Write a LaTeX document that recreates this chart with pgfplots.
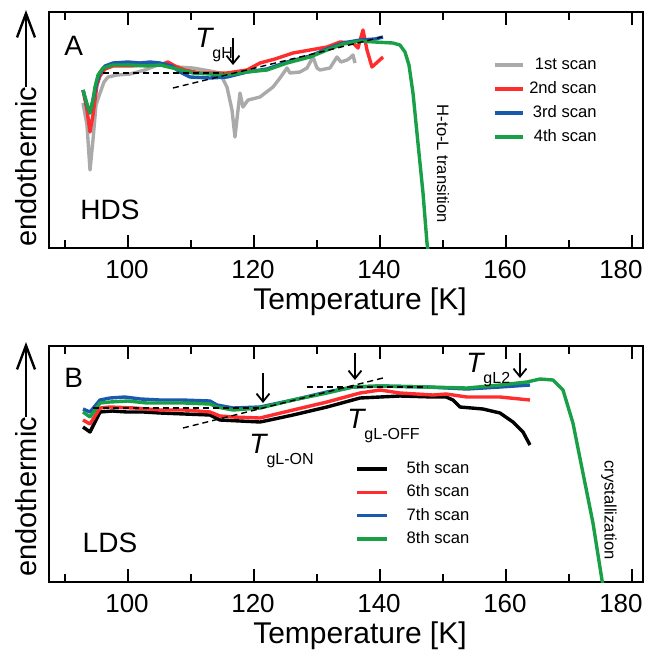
\documentclass[border=0pt]{standalone}
\usepackage{fontspec}
\setmainfont{Liberation Sans}
\usepackage{pgfplots}
\pgfplotsset{compat=1.18}
\usetikzlibrary{arrows.meta}

\definecolor{sgray}{RGB}{170,170,170}
\definecolor{sred}{RGB}{255,45,45}
\definecolor{sblue}{RGB}{25,90,175}
\definecolor{sgreen}{RGB}{25,160,70}

% T with a lowered subscript
\newcommand{\tg}[1]{{\fontsize{14}{14}\selectfont\itshape T}\raisebox{-5.7pt}{\fontsize{8}{8}\selectfont #1}}
\newcommand{\bigf}{\fontsize{14}{16}\selectfont}
\newcommand{\smallf}{\fontsize{8.3}{10}\selectfont}

\tikzset{
  dn/.style={line width=0.9pt, -{Straight Barb[length=4pt,width=6.5pt]}},
  up/.style={line width=1.2pt, -{Straight Barb[length=12pt,width=9pt]}},
}
\pgfplotsset{
  dsc/.style={
    scale only axis, width=297pt, height=118pt,
    xmin=87.46, xmax=181.75,
    xtick={100,120,...,160}, minor xtick={90,110,...,170},
    extra x ticks={180},
    extra x tick style={xticklabel style={xshift=-5pt}},
    ytick=\empty,
    tick align=inside,
    major tick length=6.5pt, minor tick length=4pt,
    axis line style={line width=1.3pt},
    tick style={line width=1.1pt, black},
    xticklabel style={font=\fontsize{13}{15}\selectfont, inner sep=0pt, yshift=-6pt, xshift=-0.5pt},
    /pgf/number format/assume math mode=true,
    xlabel={Temperature [K]},
    xlabel style={font=\fontsize{15}{17}\selectfont, at={(axis description cs:0.5,0)}, anchor=north,
      yshift=-19.5pt, xshift=7pt, inner sep=0pt},
    clip mode=individual,
    every axis plot/.append style={line width=1.7pt, line join=round},
    legend image code/.code={\draw[#1] (0pt,0pt) -- (14pt,0pt);},
  },
  tang/.style={black, line width=0.7pt, dash pattern=on 3pt off 2pt, forget plot},
}

\begin{document}
\begin{tikzpicture}
% ---------------- panel A: HDS ----------------
\begin{axis}[dsc, name=A, at={(0,0)}, anchor=north west, ymin=-1, ymax=235,
    legend style={draw=none, fill=none, at={(0.9226,0.809)}, anchor=north east,
      inner sep=0pt, font=\smallf, nodes={inner sep=0pt, text height=6pt, text depth=1.6pt},
      row sep=4.4pt, /tikz/every odd column/.append style={column sep=2.5pt}},
    legend cell align=right]
\addplot[sgray] coordinates {
(92.86,144) (93.49,122) (93.97,77) (94.44,107) (94.92,142) (95.56,154) (96.19,165)
(96.83,170) (98.25,172) (100.32,173) (102.7,177) (105.08,183) (107.78,180) (110.32,179)
(113.02,176) (114.6,174) (115.71,160) (116.51,137) (116.98,110) (117.46,137) (117.78,154)
(118.25,140) (119.05,147) (120.95,150) (123.02,160) (124.13,169) (125.24,179) (125.71,174)
(127.3,175) (128.41,179) (129.37,190) (130.0,179) (130.48,177) (132.06,179) (133.17,190)
(133.81,185) (134.76,187) (135.24,189) (135.71,192) (136.03,184)
};
\addplot[sred] coordinates {
(92.86,157) (93.49,137) (93.97,115) (94.44,132) (95.08,162) (95.56,171) (96.35,178)
(97.62,181) (100.32,181) (103.0,182) (105.08,182) (106.35,185) (107.46,181) (109.05,177) (111.43,174)
(115.71,174) (118.89,177) (120.95,184) (123.33,188) (126.19,194) (128.89,197) (131.59,200)
(133.65,205) (135.71,204) (136.51,199) (137.3,217) (137.94,197) (138.73,180) (140.48,190)
};
\addplot[sblue] coordinates {
(92.86,157) (93.49,142) (93.97,134) (94.44,147) (95.08,165) (95.56,174) (96.35,181)
(97.62,184) (100.0,185) (101.9,184) (103.5,185) (105.08,184) (106.98,181) (108.25,175) (109.84,170) (113.02,169)
(115.71,170) (118.89,175) (122.06,178) (125.24,185) (128.89,191) (131.59,198) (134.13,204)
(136.83,207) (139.21,208) (140.48,210)
};
\addplot[sgreen] coordinates {
(92.86,157) (93.49,143) (93.97,134) (94.44,147) (94.76,160) (95.24,172) (96.03,179)
(97.62,182) (100.32,182) (103.0,181) (105.08,182) (107.78,178) (110.32,174) (115.71,172) (118.89,175)
(122.06,177) (125.24,184) (128.89,190) (131.59,197) (134.13,203) (136.83,206) (139.21,205)
(142.06,204) (143.17,202) (143.97,195) (144.6,182) (145.24,154) (146.03,104) (146.83,54)
(147.46,4) (147.62,-3)
};
\addplot[tang] coordinates {(96.03,174) (115.08,174)};
\addplot[tang] coordinates {(107.14,159) (140.32,210)};
\legend{1st scan, 2nd scan, 3rd scan, 4th scan}
\draw[dn] (axis cs:116.67,209) -- (axis cs:116.67,182);
\node[anchor=base west, inner sep=0pt] at (axis cs:110.63,200) {\tg{gH}};
\node[anchor=base, inner sep=0pt, font=\bigf] at (axis cs:91.4,192) {A};
\node[anchor=base, inner sep=0pt, font=\bigf] at (axis cs:97.14,28) {HDS};
\node[rotate=-90, inner sep=0pt, font=\smallf] at (axis cs:150.0,83) {H-to-L transition};
\node[rotate=90, anchor=west, inner sep=0pt, font=\fontsize{14.5}{17}\selectfont] (ylA)
  at ([xshift=-11.5pt]axis cs:87.46,0) {endothermic};
\draw[up] (ylA.east) -- ([xshift=-11.5pt]axis cs:87.46,237);
\end{axis}

% ---------------- panel B: LDS ----------------
\begin{axis}[dsc, name=B, at={(0,-167pt)}, anchor=north west, ymin=0, ymax=236,
    legend image code/.code={\draw[#1] (0pt,0pt) -- (15pt,0pt);},
    legend style={draw=none, fill=none, at={(0.515,0.513)}, anchor=north west,
      inner sep=0pt, font=\smallf, nodes={inner sep=0pt, text height=6pt, text depth=1.6pt},
      row sep=4.1pt, /tikz/every odd column/.append style={column sep=9pt}},
    legend cell align=left]
\addplot[black] coordinates {
(92.86,155) (93.97,150) (95.56,170) (97.5,171) (99.84,170) (102.5,170) (105.08,169) (109.0,168) (113.02,167) (114.6,162)
(120.95,160) (122.5,162) (126.19,167) (131.59,175) (136.83,184) (143.17,186) (148.41,185) (150.5,185) (151.59,182)
(152.7,175) (156.35,173) (159.05,169) (161.11,160) (162.7,150) (163.81,137)
};
\addplot[sred] coordinates {
(92.86,162) (93.97,158) (95.56,174) (97.14,175) (101.0,174) (105.08,172) (109.0,172) (113.02,170) (114.6,166)
(116.67,165) (120.95,164) (126.19,172) (131.59,180) (136.83,189) (140.0,192) (143.17,189)
(148.41,187) (150.5,188) (153.81,185) (159.05,185) (163.81,182)
};
\addplot[sblue] coordinates {
(92.86,173) (93.97,170) (95.56,182) (97.14,184) (99.5,185) (102.0,183) (105.08,182) (108.5,182) (113.02,181) (114.13,177)
(116.67,174) (120.95,175) (126.19,182) (131.59,190) (135.71,195) (140.0,196) (147.46,195)
(153.81,193) (159.05,195) (163.81,197)
};
\addplot[sgreen] coordinates {
(92.86,170) (93.97,165) (95.56,179) (97.14,180) (100.0,181) (103.0,179) (105.08,179) (109.0,179) (113.02,178) (114.13,175)
(116.67,172) (120.95,174) (126.19,182) (131.59,189) (135.71,195) (140.0,196) (147.46,195)
(153.81,194) (159.05,197) (163.33,200) (165.4,203) (167.46,202) (169.05,192) (170.63,159)
(172.22,109) (173.81,59) (175.24,2) (175.4,-3)
};
\addplot[tang] coordinates {(94.44,174) (120.95,174)};
\addplot[tang] coordinates {(108.73,154) (140.48,204)};
\addplot[tang] coordinates {(128.41,195) (147.46,195)};
\legend{5th scan, 6th scan, 7th scan, 8th scan}
\draw[dn] (axis cs:121.43,209) -- (axis cs:121.43,179);
\draw[dn] (axis cs:136.03,229) -- (axis cs:136.03,202);
\draw[dn] (axis cs:162.22,229) -- (axis cs:162.22,204);
\node[anchor=base west, inner sep=0pt] at (axis cs:119.21,129) {\tg{gL-ON}};
\node[anchor=base west, inner sep=0pt] at (axis cs:134.76,154) {\tg{gL-OFF}};
\node[anchor=base west, inner sep=0pt] at (axis cs:153.65,210) {\tg{gL2}};
\node[anchor=base, inner sep=0pt, font=\bigf] at (axis cs:91.4,195) {B};
\node[anchor=base, inner sep=0pt, font=\bigf] at (axis cs:97.14,30) {LDS};
\node[rotate=-90, inner sep=0pt, font=\smallf] at (axis cs:176.35,72) {crystallization};
\node[rotate=90, anchor=west, inner sep=0pt, font=\fontsize{14.5}{17}\selectfont] (ylB)
  at ([xshift=-11.5pt]axis cs:87.46,5) {endothermic};
\draw[up] (ylB.east) -- ([xshift=-11.5pt]axis cs:87.46,240);
\end{axis}
\pgfresetboundingbox
\path[use as bounding box] (-24.5pt,6pt) rectangle (300pt,-319pt);
\end{tikzpicture}
\end{document}
